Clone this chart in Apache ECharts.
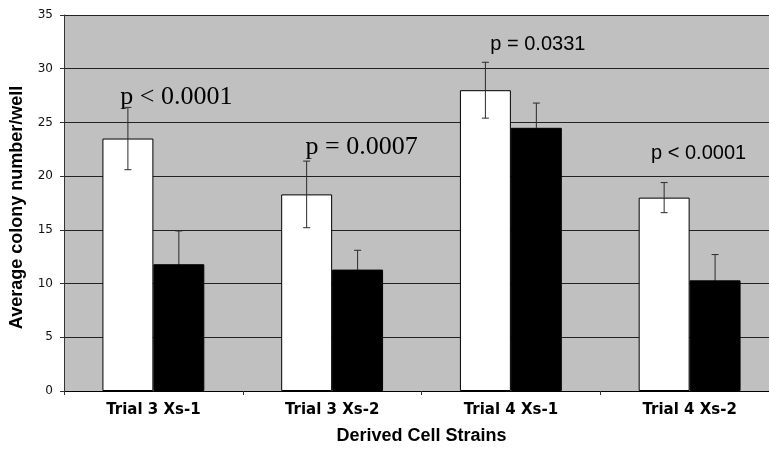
<!DOCTYPE html>
<html>
<head>
<meta charset="utf-8">
<script src="https://cdn.jsdelivr.net/npm/echarts@6/dist/echarts.min.js"></script>
<style>
  html, body { margin: 0; padding: 0; background: #ffffff; }
  #chart { width: 769px; height: 452px; }
</style>
</head>
<body>
<div id="chart"></div>
<script>
// Derived strains and colony counts (mean and error for each condition)
var categories = ['Trial 3 Xs-1', 'Trial 3 Xs-2', 'Trial 4 Xs-1', 'Trial 4 Xs-2'];
var whiteMeans = [23.5, 18.3, 28.0, 18.0];
var whiteErrors = [2.9, 3.1, 2.6, 1.4];
var blackMeans = [11.8, 11.3, 24.5, 10.3];
var blackErrors = [3.1, 1.8, 2.3, 2.4];

// Significance annotations for each strain
var pTexts = ['p < 0.0001', 'p = 0.0007', 'p = 0.0331', 'p < 0.0001'];
var pAnchorValues = [26.13, 21.5, 31.33, 21.22];

var yTicks = { min: 0, max: 35, interval: 5 };

var CATEGORY_GAP = 0.43;
var pStyles = [
  { font: '26px "Liberation Serif", "Times New Roman", serif', dx: 23 },
  { font: '26px "Liberation Serif", "Times New Roman", serif', dx: 29.5 },
  { font: '20px "Liberation Sans", Arial, sans-serif', dx: 27 },
  { font: '20px "Liberation Sans", Arial, sans-serif', dx: 9 }
];

// Error bars: vertical whisker with caps, centred on one bar of the pair.
// lowColor lets the part hidden inside a dark bar blend with its fill.
function errorBarSeries(means, errors, side, lowColor) {
  var data = means.map(function (m, i) { return [i, m - errors[i], m + errors[i], m]; });
  return {
    type: 'custom',
    z: 5,
    silent: true,
    data: data,
    renderItem: function (params, api) {
      var band = api.size([1, 0])[0];
      var barW = band * (1 - CATEGORY_GAP) / 2;
      var lo = api.coord([api.value(0), api.value(1)]);
      var hi = api.coord([api.value(0), api.value(2)]);
      var mid = api.coord([api.value(0), api.value(3)]);
      var x = lo[0] + side * barW / 2;
      var cap = 3.5;
      var st = { stroke: '#2a2a2a', lineWidth: 1 };
      var stLow = { stroke: lowColor, lineWidth: 1 };
      return {
        type: 'group',
        children: [
          { type: 'line', shape: { x1: x, y1: mid[1], x2: x, y2: hi[1] }, style: st },
          { type: 'line', shape: { x1: x, y1: lo[1], x2: x, y2: mid[1] }, style: stLow },
          { type: 'line', shape: { x1: x - cap, y1: hi[1], x2: x + cap, y2: hi[1] }, style: st },
          { type: 'line', shape: { x1: x - cap, y1: lo[1], x2: x + cap, y2: lo[1] }, style: stLow }
        ]
      };
    }
  };
}

var chart = echarts.init(document.getElementById('chart'), null, { renderer: 'canvas' });

chart.setOption({
  animation: false,
  backgroundColor: '#ffffff',
  grid: {
    left: 64, top: 15, width: 715, height: 376,
    outerBoundsMode: 'none',
    containLabel: false,
    show: true, backgroundColor: '#c0c0c0', borderWidth: 0
  },
  xAxis: {
    type: 'category',
    data: categories,
    name: 'Derived Cell Strains',
    nameLocation: 'middle',
    nameGap: 36,
    nameTextStyle: { fontFamily: '"Liberation Sans", Arial, sans-serif', fontWeight: 'bold', fontSize: 18, color: '#000' },
    axisLine: { lineStyle: { color: '#000', width: 1 } },
    axisTick: { show: true, length: 4, lineStyle: { color: '#333' } },
    axisLabel: { margin: 12, fontFamily: '"DejaVu Sans", Verdana, sans-serif', fontWeight: 'bold', fontSize: 15, color: '#000' },
    splitLine: { show: false }
  },
  yAxis: {
    type: 'value',
    min: yTicks.min, max: yTicks.max, interval: yTicks.interval,
    name: 'Average colony number/well',
    nameLocation: 'middle',
    nameGap: 38,
    nameTextStyle: {
      fontFamily: '"Liberation Sans", Arial, sans-serif', fontWeight: 'bold', fontSize: 18, color: '#000',
      padding: [0, 9, 0, 0]
    },
    axisLine: { show: true, lineStyle: { color: '#333', width: 1 } },
    axisTick: { show: true, length: 4, lineStyle: { color: '#333' } },
    axisLabel: { margin: 11, fontFamily: '"DejaVu Sans", Verdana, sans-serif', fontSize: 12, color: '#111' },
    splitLine: { show: true, lineStyle: { color: '#222', width: 1 } }
  },
  series: [
    {
      type: 'bar',
      data: whiteMeans,
      barGap: '0%',
      barCategoryGap: (CATEGORY_GAP * 100) + '%',
      itemStyle: { color: '#ffffff', borderColor: '#000', borderWidth: 1 },
      z: 3
    },
    {
      type: 'bar',
      data: blackMeans,
      barGap: '0%',
      barCategoryGap: (CATEGORY_GAP * 100) + '%',
      itemStyle: { color: '#000000', borderColor: '#000', borderWidth: 1 },
      z: 3
    },
    errorBarSeries(whiteMeans, whiteErrors, -1, '#2a2a2a'),
    errorBarSeries(blackMeans, blackErrors, 1, '#000000'),
    {
      type: 'custom',
      z: 6,
      silent: true,
      data: pAnchorValues.map(function (v, i) { return [i, v]; }),
      renderItem: function (params, api) {
        var i = params.dataIndex;
        var p = api.coord([api.value(0), api.value(1)]);
        return {
          type: 'text',
          x: p[0] + pStyles[i].dx,
          y: p[1],
          style: {
            text: pTexts[i],
            font: pStyles[i].font,
            fill: '#000',
            align: 'center',
            verticalAlign: 'bottom'
          }
        };
      }
    }
  ]
});
</script>
</body>
</html>
